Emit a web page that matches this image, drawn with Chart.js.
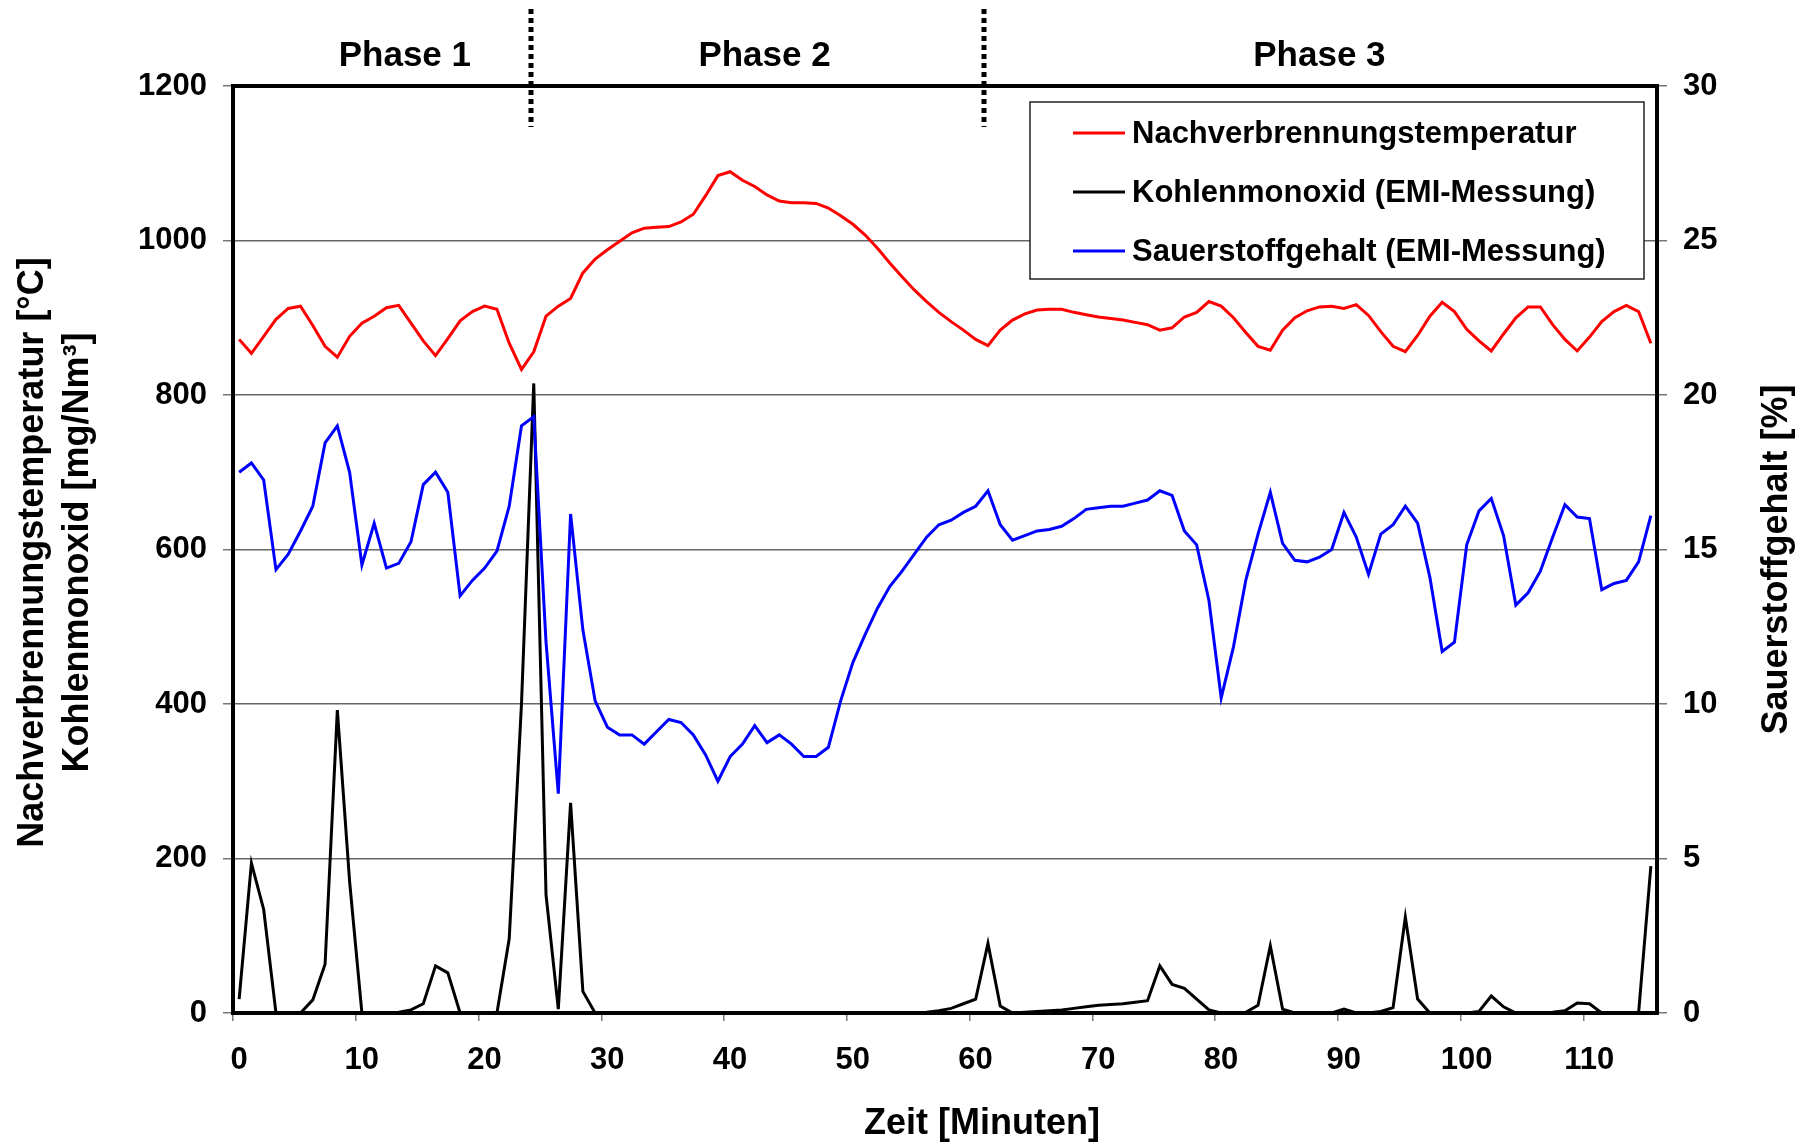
<!DOCTYPE html>
<html>
<head>
<meta charset="utf-8">
<script src="https://cdn.jsdelivr.net/npm/chart.js@4.4.1/dist/chart.umd.min.js"></script>
<style>
  html, body { margin: 0; padding: 0; background: #fff; }
</style>
</head>
<body>
<canvas id="chart" width="1800" height="1142"></canvas>
<script>
// time in minutes (one reading per minute)
const minutes = [
  0.5, 1.5, 2.5, 3.5, 4.5, 5.5, 6.5, 7.5, 8.5, 9.5,
  10.5, 11.5, 12.5, 13.5, 14.5, 15.5, 16.5, 17.5, 18.5, 19.5,
  20.5, 21.5, 22.5, 23.5, 24.5, 25.5, 26.5, 27.5, 28.5, 29.5,
  30.5, 31.5, 32.5, 33.5, 34.5, 35.5, 36.5, 37.5, 38.5, 39.5,
  40.5, 41.5, 42.5, 43.5, 44.5, 45.5, 46.5, 47.5, 48.5, 49.5,
  50.5, 51.5, 52.5, 53.5, 54.5, 55.5, 56.5, 57.5, 58.5, 59.5,
  60.5, 61.5, 62.5, 63.5, 64.5, 65.5, 66.5, 67.5, 68.5, 69.5,
  70.5, 71.5, 72.5, 73.5, 74.5, 75.5, 76.5, 77.5, 78.5, 79.5,
  80.5, 81.5, 82.5, 83.5, 84.5, 85.5, 86.5, 87.5, 88.5, 89.5,
  90.5, 91.5, 92.5, 93.5, 94.5, 95.5, 96.5, 97.5, 98.5, 99.5,
  100.5, 101.5, 102.5, 103.5, 104.5, 105.5, 106.5, 107.5, 108.5, 109.5,
  110.5, 111.5, 112.5, 113.5, 114.5, 115.5
];

// Nachverbrennungstemperatur [°C]
const temperature = [
  872, 854, 876, 898, 912, 915, 890, 863, 849, 876,
  893, 902, 913, 916, 893, 870, 851, 873, 896, 908,
  915, 911, 867, 833, 856, 902, 915, 925, 958, 976,
  988, 999, 1010, 1016, 1017, 1018, 1024, 1034, 1058, 1084,
  1089, 1078, 1070, 1059, 1051, 1049, 1049, 1048, 1042, 1032,
  1021, 1007, 990, 971, 953, 936, 921, 907, 895, 884,
  872, 864, 884, 897, 905, 910, 911, 911, 907, 904,
  901, 899, 897, 894, 891, 884, 887, 901, 907, 921,
  915, 900, 881, 863, 858, 884, 900, 909, 914, 915,
  912, 917, 903, 882, 863, 856, 877, 902, 920, 908,
  885, 870, 857, 879, 900, 914, 914, 891, 872, 857,
  875, 895, 908, 916, 908, 867
];

// Kohlenmonoxid [mg/Nm³]
const carbonMonoxide = [
  18, 194, 134, 0, 0, 0, 17, 63, 392, 170,
  0, 0, 0, 1, 4, 12, 61, 52, 0, 0,
  0, 0, 96, 400, 815, 153, 5, 272, 28, 0,
  0, 0, 0, 0, 0, 0, 0, 0, 0, 0,
  0, 0, 0, 0, 0, 0, 0, 0, 0, 0,
  0, 0, 0, 0, 0, 0, 1, 3, 6, 12,
  18, 90, 9, 0, 1, 2, 3, 4, 6, 8,
  10, 11, 12, 14, 16, 61, 37, 32, 18, 4,
  0, 0, 1, 10, 87, 5, 0, 0, 0, 0,
  5, 0, 0, 2, 7, 124, 18, 0, 0, 0,
  0, 2, 22, 8, 0, 0, 0, 1, 3, 13,
  12, 0, 0, 0, 0, 190
];

// Sauerstoffgehalt [%]
const oxygen = [
  17.5, 17.8, 17.25, 14.35, 14.85, 15.6, 16.4, 18.45, 19.0, 17.5,
  14.5, 15.85, 14.4, 14.55, 15.25, 17.1, 17.5, 16.85, 13.5, 14.0,
  14.4, 14.95, 16.4, 19.0, 19.3, 12.0, 7.1, 16.15, 12.4, 10.1,
  9.25, 9.0, 9.0, 8.7, 9.1, 9.5, 9.4, 9.0, 8.35, 7.5,
  8.3, 8.7, 9.3, 8.75, 9.0, 8.7, 8.3, 8.3, 8.6, 10.1,
  11.35, 12.25, 13.1, 13.8, 14.3, 14.85, 15.4, 15.8, 15.95, 16.2,
  16.4, 16.9, 15.8, 15.3, 15.45, 15.6, 15.65, 15.75, 16.0, 16.3,
  16.35, 16.4, 16.4, 16.5, 16.6, 16.9, 16.75, 15.6, 15.15, 13.35,
  10.2, 11.85, 14.0, 15.5, 16.85, 15.2, 14.65, 14.6, 14.75, 15.0,
  16.2, 15.4, 14.2, 15.5, 15.8, 16.4, 15.85, 14.1, 11.7, 12.0,
  15.15, 16.25, 16.65, 15.45, 13.2, 13.6, 14.3, 15.4, 16.45, 16.05,
  16.0, 13.7, 13.9, 14.0, 14.6, 16.1
];

const xTicks = [0, 10, 20, 30, 40, 50, 60, 70, 80, 90, 100, 110];
const leftTicks = [0, 200, 400, 600, 800, 1000, 1200];
const rightTicks = [0, 5, 10, 15, 20, 25, 30];

const phaseNames = ["Phase 1", "Phase 2", "Phase 3"];
const phaseBounds = [24.3, 61.2];

const FONT = "'Liberation Sans', Arial, sans-serif";

function pts(ys) {
  return minutes.map((m, i) => ({ x: m, y: ys[i] }));
}

// plain numbers, no thousands separator
const plain = (v) => String(v);

const decor = {
  id: "decor",
  beforeDraw(chart) {
    const ctx = chart.ctx;
    ctx.save();
    ctx.fillStyle = "#fff";
    ctx.fillRect(0, 0, chart.width, chart.height);
    ctx.restore();
  },
  afterDatasetsDraw(chart) {
    const ctx = chart.ctx;
    const a = chart.chartArea;
    const xs = chart.scales.x;
    ctx.save();

    // plot frame
    ctx.strokeStyle = "#000";
    ctx.lineWidth = 4;
    ctx.strokeRect(a.left, a.top, a.right - a.left, a.bottom - a.top);

    // phase separators + names
    ctx.setLineDash([5, 4]);
    ctx.lineWidth = 5;
    phaseBounds.forEach((b) => {
      const px = Math.round(xs.getPixelForValue(b));
      ctx.beginPath();
      ctx.moveTo(px, 9);
      ctx.lineTo(px, 127);
      ctx.stroke();
    });
    ctx.setLineDash([]);
    ctx.fillStyle = "#000";
    ctx.font = "bold 35px " + FONT;
    ctx.textAlign = "center";
    ctx.textBaseline = "middle";
    const phaseAt = [14.0, 43.3, 88.5];
    phaseNames.forEach((p, i) => {
      ctx.fillText(p, xs.getPixelForValue(phaseAt[i]), 56);
    });

    // legend
    const lx = 1030, ly = 102, lw = 614, lh = 177;
    ctx.fillStyle = "#fff";
    ctx.fillRect(lx, ly, lw, lh);
    ctx.strokeStyle = "#222";
    ctx.lineWidth = 1.5;
    ctx.strokeRect(lx, ly, lw, lh);
    ctx.font = "bold 31px " + FONT;
    ctx.textAlign = "left";
    chart.data.datasets.forEach((ds, i) => {
      const ry = ly + 31 + i * 59;
      ctx.strokeStyle = ds.borderColor;
      ctx.lineWidth = 3;
      ctx.beginPath();
      ctx.moveTo(lx + 43, ry);
      ctx.lineTo(lx + 95, ry);
      ctx.stroke();
      ctx.fillStyle = "#000";
      ctx.fillText(ds.label, lx + 102, ry + 1);
    });

    // axis titles
    ctx.font = "bold 36px " + FONT;
    ctx.textAlign = "center";
    ctx.fillText("Zeit [Minuten]", 982, 1124);
    const cy = (a.top + a.bottom) / 2;
    ctx.save();
    ctx.translate(33, cy + 3);
    ctx.rotate(-Math.PI / 2);
    ctx.fillText("Nachverbrennungstemperatur [°C]", 0, 0);
    ctx.fillText("Kohlenmonoxid [mg/Nm³]", 0, 45);
    ctx.restore();
    ctx.save();
    ctx.translate(1777, cy + 10);
    ctx.rotate(-Math.PI / 2);
    ctx.fillText("Sauerstoffgehalt [%]", 0, 0);
    ctx.restore();

    ctx.restore();
  }
};

new Chart(document.getElementById("chart"), {
  type: "line",
  data: {
    datasets: [
      {
        label: "Nachverbrennungstemperatur",
        data: pts(temperature),
        borderColor: "#ff0000",
        borderWidth: 3,
        yAxisID: "y",
        order: 3
      },
      {
        label: "Kohlenmonoxid (EMI-Messung)",
        data: pts(carbonMonoxide),
        borderColor: "#000000",
        borderWidth: 3,
        yAxisID: "y",
        order: 2
      },
      {
        label: "Sauerstoffgehalt (EMI-Messung)",
        data: pts(oxygen),
        borderColor: "#0000ff",
        borderWidth: 3,
        yAxisID: "y2",
        order: 1
      }
    ]
  },
  options: {
    responsive: false,
    animation: false,
    devicePixelRatio: 1,
    layout: { padding: { top: 86, left: 0, right: 0, bottom: 0 } },
    elements: { point: { radius: 0 }, line: { tension: 0 } },
    plugins: { legend: { display: false }, tooltip: { enabled: false } },
    scales: {
      x: {
        type: "linear",
        min: 0,
        max: 116,
        afterFit(s) { s.height = 129; },
        afterBuildTicks(s) { s.ticks = xTicks.map((v) => ({ value: v })); },
        grid: { drawOnChartArea: false, tickLength: 8, tickColor: "#777", lineWidth: 1.5 },
        border: { display: false },
        ticks: {
          color: "#000",
          padding: 21,
          labelOffset: 6,
          maxRotation: 0,
          callback: plain,
          font: { family: FONT, size: 31, weight: "bold" }
        }
      },
      y: {
        position: "left",
        min: 0,
        max: 1200,
        afterFit(s) { s.width = 233; },
        afterBuildTicks(s) { s.ticks = leftTicks.map((v) => ({ value: v })); },
        grid: { color: "#666", lineWidth: 1.5, tickLength: 10, tickColor: "#777" },
        border: { display: false },
        ticks: {
          color: "#000",
          padding: 16,
          callback: plain,
          font: { family: FONT, size: 31, weight: "bold" }
        }
      },
      y2: {
        position: "right",
        min: 0,
        max: 30,
        afterFit(s) { s.width = 143; },
        afterBuildTicks(s) { s.ticks = rightTicks.map((v) => ({ value: v })); },
        grid: { drawOnChartArea: false, tickLength: 10, tickColor: "#777", lineWidth: 1.5 },
        border: { display: false },
        ticks: {
          color: "#000",
          padding: 16,
          callback: plain,
          font: { family: FONT, size: 31, weight: "bold" }
        }
      }
    }
  },
  plugins: [decor]
});
</script>
</body>
</html>
